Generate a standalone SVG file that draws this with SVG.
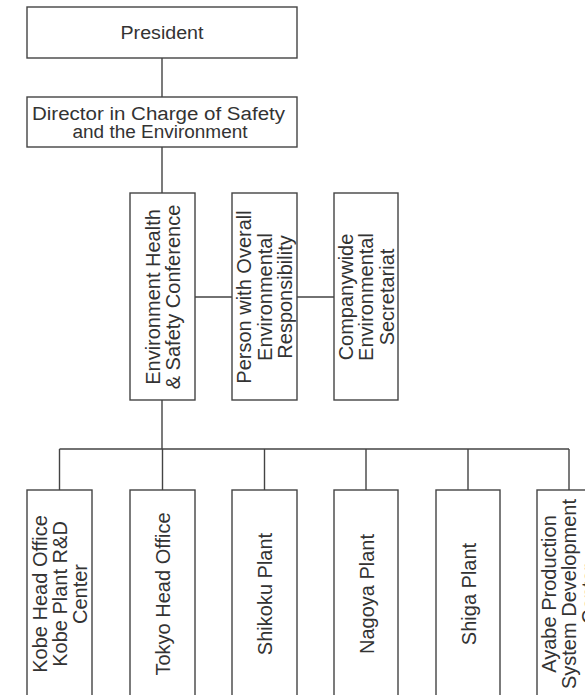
<svg xmlns="http://www.w3.org/2000/svg" width="585" height="695" viewBox="0 0 585 695">
<style>
.box{fill:#fff;stroke:#444;stroke-width:1.4}
.ln{fill:none;stroke:#444;stroke-width:1.4}
text{font-family:"Liberation Sans",Arial,sans-serif;fill:#333;text-anchor:middle}
.h{font-size:18px}
.v{font-size:20px}
</style>
<rect width="585" height="695" fill="#fff"/>
<g id="connectors">
<path class="ln" d="M162 58V97M162 147V193M195 297H232M297 297H334M162 400V449M59.5 449H569M59.5 449V490M162.5 449V490M264.5 449V490M366 449V490M468 449V490M569 449V490"/>
</g>
<g id="president">
<rect class="box" x="27" y="7" width="270" height="51"/>
<text class="h" x="162" y="38.5" textLength="83" lengthAdjust="spacingAndGlyphs">President</text>
</g>
<g id="director">
<rect class="box" x="27" y="97" width="270" height="50"/>
<text class="h" x="158.5" y="120" textLength="253" lengthAdjust="spacingAndGlyphs">Director in Charge of Safety</text>
<text class="h" x="160" y="138.3" textLength="175" lengthAdjust="spacingAndGlyphs">and the Environment</text>
</g>
<g id="ehs">
<rect class="box" x="130" y="193" width="65" height="207"/>
<text class="v" transform="translate(162.5,297) rotate(-90)"><tspan x="0" y="-3">Environment Health</tspan><tspan x="0" y="17.5">&amp; Safety Conference</tspan></text>
</g>
<g id="person">
<rect class="box" x="232" y="193" width="65" height="207"/>
<text class="v" transform="translate(264.5,297) rotate(-90)"><tspan x="0" y="-13.5">Person with Overall</tspan><tspan x="0" y="7">Environmental</tspan><tspan x="0" y="27.5">Responsibility</tspan></text>
</g>
<g id="secretariat">
<rect class="box" x="334" y="193" width="64" height="207"/>
<text class="v" transform="translate(366,297) rotate(-90)"><tspan x="0" y="-13.5">Companywide</tspan><tspan x="0" y="7">Environmental</tspan><tspan x="0" y="27.5">Secretariat</tspan></text>
</g>
<g id="kobe">
<rect class="box" x="27" y="490" width="65" height="208"/>
<text class="v" transform="translate(59.5,594) rotate(-90)"><tspan x="0" y="-13">Kobe Head Office</tspan><tspan x="0" y="7">Kobe Plant R&amp;D</tspan><tspan x="0" y="27">Center</tspan></text>
</g>
<g id="tokyo">
<rect class="box" x="130" y="490" width="65" height="208"/>
<text class="v" transform="translate(162.5,594) rotate(-90)"><tspan x="0" y="7.5">Tokyo Head Office</tspan></text>
</g>
<g id="shikoku">
<rect class="box" x="232" y="490" width="65" height="208"/>
<text class="v" transform="translate(264.5,594) rotate(-90)"><tspan x="0" y="7.5">Shikoku Plant</tspan></text>
</g>
<g id="nagoya">
<rect class="box" x="334" y="490" width="64" height="208"/>
<text class="v" transform="translate(366,594) rotate(-90)"><tspan x="0" y="7.5">Nagoya Plant</tspan></text>
</g>
<g id="shiga">
<rect class="box" x="436" y="490" width="64" height="208"/>
<text class="v" transform="translate(468,594) rotate(-90)"><tspan x="0" y="7.5">Shiga Plant</tspan></text>
</g>
<g id="ayabe">
<rect class="box" x="537" y="490" width="64" height="208"/>
<text class="v" transform="translate(569,594) rotate(-90)"><tspan x="0" y="-13">Ayabe Production</tspan><tspan x="0" y="7">System Development</tspan><tspan x="0" y="27">Center</tspan></text>
</g>
</svg>
